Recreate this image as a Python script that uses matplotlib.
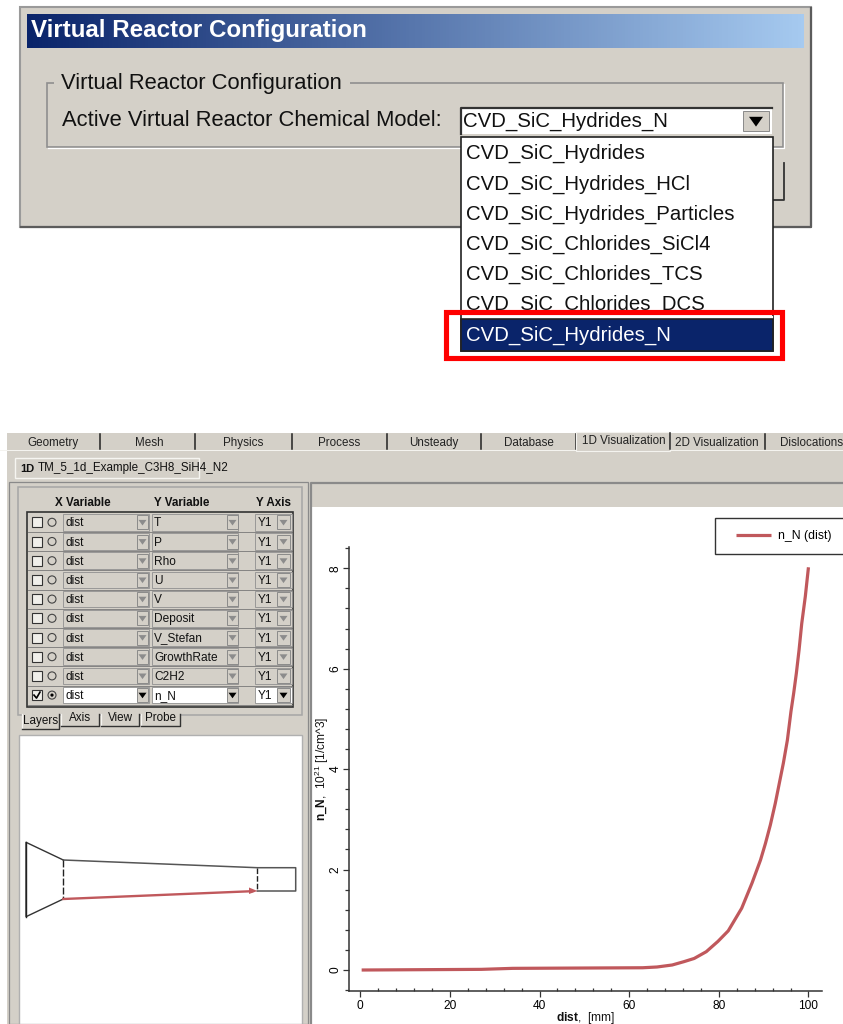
#!/usr/bin/env python3
import numpy as np
import matplotlib
matplotlib.use('Agg')
import matplotlib.pyplot as plt
from matplotlib.lines import Line2D
from matplotlib.legend_handler import HandlerLine2D
from matplotlib.patches import Rectangle, Polygon, Circle
from matplotlib.ticker import MultipleLocator

plt.rcParams['font.family'] = ['Liberation Sans', 'DejaVu Sans']
plt.rcParams['mathtext.fontset'] = 'custom'
plt.rcParams['mathtext.rm'] = 'Liberation Sans'
plt.rcParams['mathtext.bf'] = 'Liberation Sans:bold'

W, H = 843, 1024
GREY = '#d4d0c8'
NAVY = '#0a246a'
CURVE = '#c0585c'

# dialog texts
model_items = ['CVD_SiC_Hydrides', 'CVD_SiC_Hydrides_HCl', 'CVD_SiC_Hydrides_Particles',
               'CVD_SiC_Chlorides_SiCl4', 'CVD_SiC_Chlorides_TCS', 'CVD_SiC_Chlorides_DCS']
model_selected = 'CVD_SiC_Hydrides_N'

# tabs
tab_names = ['Geometry', 'Mesh', 'Physics', 'Process', 'Unsteady', 'Database',
             '1D Visualization', '2D Visualization', 'Dislocations']
y_variables = ['T', 'P', 'Rho', 'U', 'V', 'Deposit', 'V_Stefan', 'GrowthRate', 'C2H2', 'n_N']
sub_tabs = ['Layers', 'Axis', 'View', 'Probe']

# curve
dist = [0.3, 27, 34, 63, 66.2, 69.6, 72.2, 74.5, 77.2, 79.8, 82.1, 85.1, 87.4, 89.3, 90.4,
        91.5, 92.6, 93.5, 94.4, 95.3, 96.1, 96.7, 97.3, 97.9, 98.5, 99.3, 100]
n_N = [0.0, 0.013, 0.033, 0.045, 0.06, 0.1, 0.166, 0.23, 0.365, 0.57, 0.78, 1.23, 1.73, 2.19, 2.52,
       2.89, 3.32, 3.72, 4.12, 4.58, 5.15, 5.51, 5.91, 6.37, 6.9, 7.44, 8.02]

# reactor sketch outline
reactor_x = [63.3, 26, 26, 63.3]
reactor_y = [860, 842.3, 916.7, 899]
wall_x = [63.3, 257.3, 295.7, 295.7, 257.3]
wall_y = [860, 867.7, 867.7, 891, 891]
path_x = [63.3, 252]
path_y = [899, 891.2]

fig = plt.figure(figsize=(W / 100, H / 100), dpi=100, facecolor='white')
bg = fig.add_axes([0, 0, 1, 1])
bg.set_xlim(0, W)
bg.set_ylim(H, 0)
bg.axis('off')


def box(x0, y0, x1, y1, fc=GREY, ec='none', lw=0, z=1, ax=bg):
    r = Rectangle((x0, y0), x1 - x0, y1 - y0, fc=fc, ec=ec, lw=lw, zorder=z)
    ax.add_patch(r)
    return r


def txt(x, y, s, size=8.6, color='#111111', ha='left', weight='normal', z=5, **kw):
    # va center sits about a pixel high against the screenshot
    return bg.text(x, y + 1, s, fontsize=size, color=color, ha=ha, va='center', weight=weight, zorder=z, **kw)


def arrow_btn(x0, y0, x1, y1, color, half=4):
    box(x0, y0, x1, y1, fc=GREY, ec='#8a8a8a', lw=0.7, z=4)
    cx = (x0 + x1) / 2
    cy = (y0 + y1) / 2
    bg.add_patch(Polygon([[cx - half, cy - half * 0.6], [cx + half, cy - half * 0.6], [cx, cy + half * 0.8]],
                         fc=color, ec='none', zorder=5))


# upper dialog
box(20.4, 7, 811, 226.7, fc=GREY, ec='#9a9a9a', lw=1.5)
bg.plot([21, 811, 811], [226.5, 226.5, 8], color='#5c5c5c', lw=1.6, zorder=2)
grad = np.linspace(0, 1, 256).reshape(1, -1)
cmap = matplotlib.colors.LinearSegmentedColormap.from_list('title', [NAVY, '#a6caf0'])
bg.imshow(grad, extent=(27, 804, 48, 14), cmap=cmap, aspect='auto', zorder=2)
bg.set_xlim(0, W)
bg.set_ylim(H, 0)
txt(31, 30, 'Virtual Reactor Configuration', size=17.4, color='white', weight='bold')

box(47, 83, 783, 147, fc='none', ec='#8f8f8f', lw=1.2, z=2)
bg.plot([48, 784, 784], [147.5, 147.5, 84], color='white', lw=0.9, zorder=2)
box(54, 75, 350, 90, fc=GREY, z=3)
txt(61, 83, 'Virtual Reactor Configuration', size=15.8)
txt(62, 120, 'Active Virtual Reactor Chemical Model:', size=15.8)

box(461, 107, 771.5, 134, fc='white', z=2)
bg.plot([461, 461, 771.5], [134, 108, 108], color='#333333', lw=1.6, zorder=3)
txt(463, 120, model_selected, size=14.7)
arrow_btn(743, 111, 769, 131, 'black', half=7)

# hidden button behind the list
box(700, 163, 785, 200, fc=GREY, z=2)
bg.plot([784, 784, 772], [163, 200, 200], color='#333333', lw=1.3, zorder=3)

box(461, 137, 773, 351, fc='white', ec='#222222', lw=1.2, z=6)
item_y = [153, 184, 214, 244, 274, 304]
for y, s in zip(item_y, model_items):
    txt(466, y - 1, s, size=14.7, z=7)
box(461.5, 316, 772.5, 319, fc='white', z=8)
box(461, 319, 773, 351, fc=NAVY, ec='#222222', lw=1.2, z=8)
txt(466, 334, model_selected, size=14.7, color='white', z=9)
box(462, 310, 772, 316, fc='white', z=8)
box(446, 312, 782, 358, fc='none', ec='#ff0000', lw=3.7, z=10)

# lower application window
box(7, 433, W, 1024, fc=GREY)
box(0, 449.5, W, 451, fc='#f4f3ef', z=1)
box(7, 451, W, 1024, fc=GREY, z=1)
tab_sep = [100, 195, 292, 386.5, 481, 576, 670, 765]
tab_cx = [53, 149, 243, 339, 434, 529, 623.6, 717, 812]
for x in tab_sep:
    bg.plot([x, x], [434, 449], color='#222222', lw=1.1, zorder=3)
box(576, 432, 670, 451, fc=GREY, ec='#f4f3ef', lw=0.8, z=3)
bg.plot([670, 670], [433, 449], color='#222222', lw=1.1, zorder=4)
for cx, s in zip(tab_cx, tab_names):
    txt(cx, 440 if s == '1D Visualization' else 442, s, ha='center', size=8.4,
        color='#222222')

box(15, 458, 199, 478, fc=GREY, ec='#f6f5f1', lw=1, z=2)
txt(20, 467.5, '1D', size=8, weight='bold')
txt(38, 467.5, 'TM_5_1d_Example_C3H8_SiH4_N2', size=8.4)

# left panel
box(9, 482, 308, 1024, fc=GREY, ec='#8a8a8a', lw=0.9, z=1)
box(18, 487, 302, 715, fc=GREY, ec='#a6a6a6', lw=1.1, z=1)
txt(83, 502, 'X Variable', weight='bold', ha='center', size=8.4)
txt(182, 502, 'Y Variable', weight='bold', ha='center', size=8.4)
txt(273, 502, 'Y Axis', weight='bold', ha='center', size=8.4)
box(27, 512, 293, 707, fc=GREY, ec='#333333', lw=1.2, z=2)

row_y = 522.3 + 19.2 * np.arange(len(y_variables))
for i, (y, name) in enumerate(zip(row_y, y_variables)):
    active = i == len(y_variables) - 1
    fc = 'white' if active else GREY
    col = 'black' if active else '#8c8c8c'
    box(63, y - 8.3, 149, y + 8.3, fc=fc, ec='#8f8f8f', lw=0.6, z=3)
    box(152, y - 8.3, 238, y + 8.3, fc=fc, ec='#8f8f8f', lw=0.6, z=3)
    box(255, y - 8.3, 292, y + 8.3, fc=fc, ec='#8f8f8f', lw=0.6, z=3)
    bg.plot([28, 292], [y + 9.6, y + 9.6], color='#777777', lw=0.6, zorder=2)
    box(32, y - 5, 42, y + 5, fc='#f0efea', ec='#333333', lw=0.8, z=4)
    bg.add_patch(Circle((52, y), 4, fc='none', ec='#444444', lw=0.8, zorder=4))
    if active:
        bg.plot([34, 36.5, 40], [y, y + 3, y - 3], color='black', lw=1.2, zorder=5)
        bg.add_patch(Circle((52, y), 1.6, fc='black', ec='none', zorder=5))
    txt(65, y, 'dist')
    txt(154, y, name)
    txt(258, y, 'Y1')
    arrow_btn(137, y - 7, 148, y + 7, col)
    arrow_btn(227, y - 7, 238, y + 7, col)
    arrow_btn(277, y - 7, 290, y + 7, col)

# bottom tabs: only the right and bottom edges are dark, the left one is light
sub_x = [(22, 59), (61, 99), (101, 139), (141, 180)]
for (x0, x1), s in zip(sub_x, sub_tabs):
    on = s == 'Layers'
    y1 = 729 if on else 726
    box(x0, 713, x1, y1, fc=GREY, z=4)
    bg.plot([x0, x0], [714, y1], color='#f6f5f1', lw=0.9, zorder=5)
    bg.plot([x0, x1, x1], [y1, y1, 714], color='#333333', lw=1, zorder=5)
    txt((x0 + x1) / 2, 720 if on else 717, s, ha='center', size=8.4, z=6)

# reactor sketch
box(19, 735, 302, 1024, fc='white', ec='#b0b0b0', lw=1, z=2)
bg.plot(reactor_x, reactor_y, color='#333333', lw=1, zorder=4)
bg.plot([26, 26], [842.3, 916.7], color='#222222', lw=1, zorder=4)
bg.plot(wall_x, wall_y, color='#555555', lw=1.1, zorder=4)
bg.plot([63.3, 63.3], [860, 899], color='#222222', lw=1, ls=(0, (5, 1.5)), zorder=4)
bg.plot([257.3, 257.3], [867.7, 891], color='#222222', lw=1, ls=(0, (4, 1.5)), zorder=4)
bg.plot(path_x, path_y, color=CURVE, lw=1.7, zorder=5)
bg.add_patch(Polygon([[249, 887.5], [257.5, 891], [249, 894]], fc=CURVE, ec='none', zorder=5))

# chart area
box(311, 482, W, 1024, fc='white', z=1)
box(311, 483, W, 507, fc=GREY, z=2)
bg.plot([W, 311, 311], [482.5, 482.5, 1024], color='#8a8a8a', lw=1.6, zorder=3)

left, right = 349.1, 821.9
top, bottom = 546.7, 991
ax = fig.add_axes([left / W, 1 - bottom / H, (right - left) / W, (bottom - top) / H])
ax.patch.set_alpha(0)
line, = ax.plot(dist, n_N, color=CURVE, lw=2.3, label='n_N (dist)', solid_capstyle='butt')
ax.set_xlim(-2.5, 103)
ax.set_ylim(-0.418, 8.43)
for s in ('top', 'right'):
    ax.spines[s].set_visible(False)
for s in ('left', 'bottom'):
    ax.spines[s].set_linewidth(1.1)
    ax.spines[s].set_color('#333333')
ax.xaxis.set_major_locator(MultipleLocator(20))
ax.xaxis.set_minor_locator(MultipleLocator(4))
ax.yaxis.set_major_locator(MultipleLocator(2))
ax.yaxis.set_minor_locator(MultipleLocator(0.4))
ax.tick_params(which='major', length=4.3, width=0.9, color='#333333', labelsize=8.6)
ax.tick_params(which='minor', length=2.6, width=0.9, color='#333333')
ax.tick_params(axis='x', which='major', pad=2.5)
ax.tick_params(axis='y', which='major', pad=1)
ax.tick_params(axis='x', which='minor', direction='in', length=2)
plt.setp(ax.get_yticklabels(), rotation=90, va='center')
fig.text(585 / W, 1 - 1017.5 / H, r'$\mathbf{dist}$,  [mm]', fontsize=8.6, ha='center', va='center', color='#111111')
fig.text(321.5 / W, 1 - 769 / H, r'$\mathbf{n\_N}$,  $10^{21}$ [1/cm^3]', fontsize=8.6, rotation=90,
         ha='center', va='center', color='#111111')
# the frame runs off the right edge of the screenshot
leg = ax.legend(loc='upper left', bbox_to_anchor=(714.8 / W, 1 - 553.3 / H, 140 / W, 35.6 / H),
                bbox_transform=fig.transFigure, mode='expand', borderaxespad=0, fontsize=8.8,
                fancybox=False, framealpha=1, edgecolor='#333333', handlelength=3.6,
                handletextpad=0.55, borderpad=1.0,
                handler_map={Line2D: HandlerLine2D(xpad=0.75)})
leg.get_frame().set_linewidth(1.0)

fig.savefig('out.png', dpi=100)
